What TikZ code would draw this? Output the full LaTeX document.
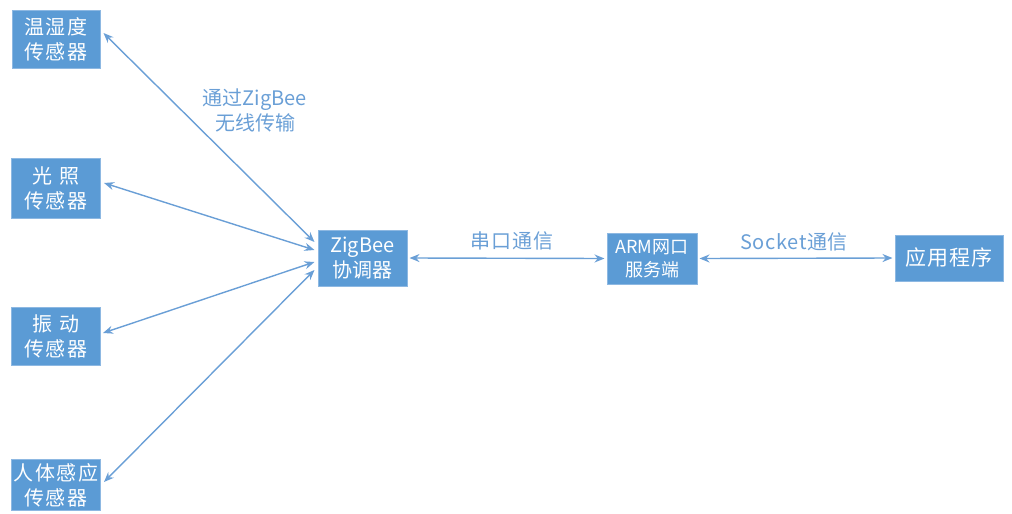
\documentclass[tikz,border=0pt]{standalone}
\usepackage{fontspec}
\setmainfont{Noto Sans CJK SC}
\usetikzlibrary{arrows.meta,calc}
\definecolor{boxblue}{HTML}{5B9BD5}
\definecolor{boxedge}{HTML}{8DB8E2}
\definecolor{linkblue}{HTML}{6A9FD6}
\begin{document}
\begin{tikzpicture}[x=1pt,y=-1pt,
  box/.style={draw=boxedge,line width=1pt,fill=boxblue,text=white,align=center,
    inner sep=0pt,font=\fontsize{20}{25}\selectfont\addfontfeature{LetterSpace=8}},
  link/.style={draw=linkblue,line width=1.4pt,{Stealth[length=10pt,width=8pt]}-{Stealth[length=10pt,width=8pt]}},
  lbl/.style={text=linkblue,align=center,font=\fontsize{20}{25}\selectfont\addfontfeature{LetterSpace=6},inner sep=0pt}]
\useasboundingbox (0,0) rectangle (1012,514);
\node[box,minimum width=88pt,minimum height=58pt] (th) at (56,39) {温湿度\\传感器};
\node[box,minimum width=89pt,minimum height=60pt] (light) at (56,188) {光 照\\传感器};
\node[box,minimum width=89pt,minimum height=58pt] (vib) at (56,336) {振 动\\传感器};
\node[box,minimum width=89pt,minimum height=51pt] (body) at (56,485) {人体感应\\传感器};
\node[box,minimum width=89pt,minimum height=56pt,font=\fontsize{20}{25}\selectfont] (zb) at (362.5,258) {ZigBee\\协调器};
\node[box,minimum width=90pt,minimum height=51pt,font=\fontsize{18}{23}\selectfont] (arm) at (652,258.5) {ARM网口\\服务端};
\node[box,minimum width=108pt,minimum height=46pt,font=\fontsize{21}{25}\selectfont\addfontfeature{LetterSpace=5}] (app) at (949,258) {应用程序};
\draw[link] ($(th.east)+(3,-6)$) -- ($(zb.west)+(-3,-16)$);
\draw[link] ($(light.east)+(3,-5)$) -- ($(zb.west)+(-3,-8)$);
\draw[link] ($(vib.east)+(2,-3)$) -- ($(zb.west)+(-3,4)$);
\draw[link] ($(body.east)+(3,-3)$) -- ($(zb.west)+(-3,12)$);
\draw[link] ($(zb.east)+(2,0)$) -- ($(arm.west)+(-2,0)$);
\draw[link] ($(arm.east)+(2,0)$) -- ($(app.west)+(-2,0)$);
\node[lbl,font=\fontsize{20}{25}\selectfont] (l1) at (255,110) {通过ZigBee\\无线传输};
\node[lbl] (l2) at (512,241) {串口通信};
\node[lbl,font=\fontsize{20}{25}\selectfont\addfontfeature{LetterSpace=3}] (l3) at (794,242) {Socket通信};
\end{tikzpicture}
\end{document}
